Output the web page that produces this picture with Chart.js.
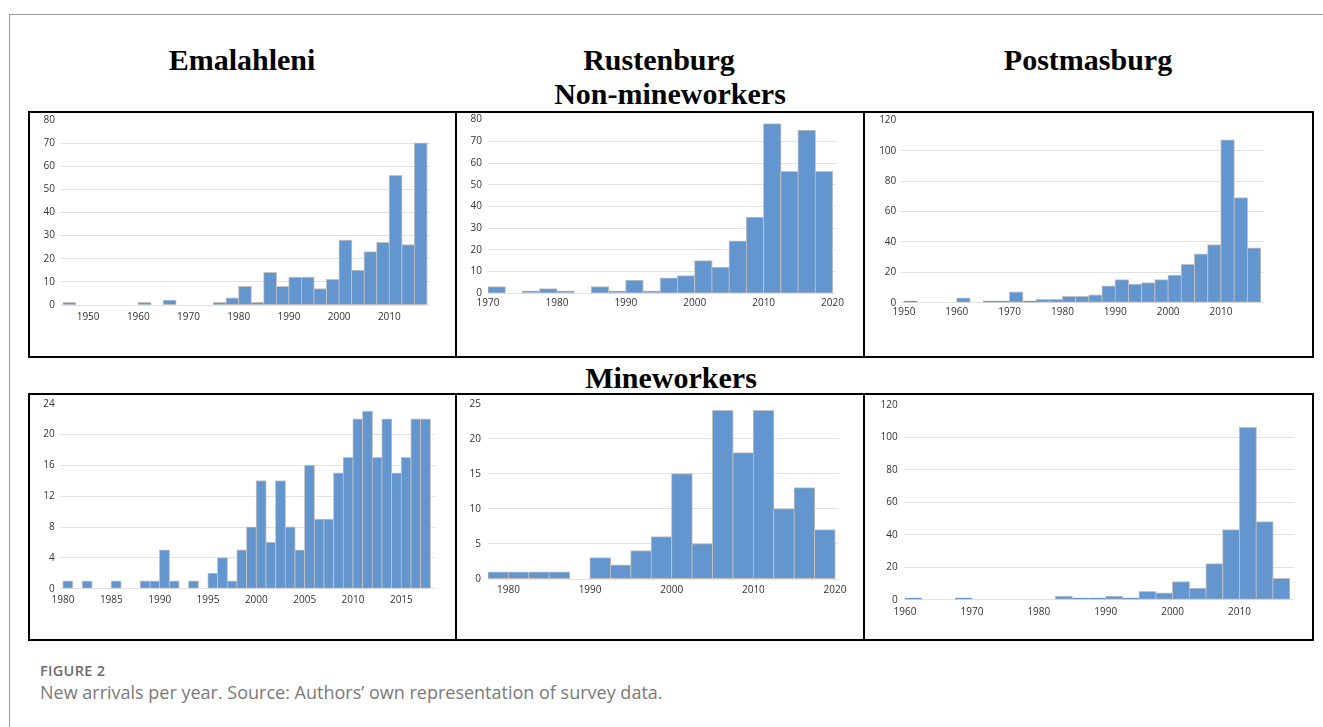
<!DOCTYPE html>
<html><head><meta charset="utf-8">
<script src="https://cdn.jsdelivr.net/npm/chart.js@4.4.1/dist/chart.umd.min.js"></script>
<style>
html,body{margin:0;padding:0;background:#fff}
body{width:1323px;height:727px;overflow:hidden;position:relative}
.frame{position:absolute;left:9px;top:14px;width:1400px;height:800px;border:1.5px solid #9a9a9a;box-sizing:border-box}
.box{position:absolute;border:2px solid #000;box-sizing:border-box}
.vdiv{position:absolute;background:#000;width:1.5px}
.title{position:absolute;font-family:'Liberation Serif','Times New Roman',serif;font-weight:bold;font-size:30px;line-height:30px;color:#000;white-space:nowrap;transform:translateX(-50%)}
.cap1{position:absolute;left:40px;top:664px;font-family:'Open Sans',sans-serif;font-weight:600;font-size:14.5px;line-height:14.5px;color:#6b6b6b;letter-spacing:0.3px}
.cap2{position:absolute;left:40px;top:683px;font-family:'Open Sans',sans-serif;font-size:18px;line-height:18px;color:#7a7a7a;white-space:nowrap}
canvas{position:absolute}
</style></head><body>
<div class="frame"></div>

<div class="title" style="left:242px;top:45px">Emalahleni</div>
<div class="title" style="left:659px;top:45px">Rustenburg</div>
<div class="title" style="left:670px;top:79px">Non-mineworkers</div>
<div class="title" style="left:1088px;top:45px">Postmasburg</div>
<div class="title" style="left:671px;top:363px">Mineworkers</div>

<div class="box" style="left:28px;top:111px;width:1286px;height:247px"></div>
<div class="vdiv" style="left:455px;top:112px;height:245px"></div>
<div class="vdiv" style="left:863px;top:112px;height:245px"></div>
<div class="box" style="left:28px;top:393px;width:1286px;height:248px"></div>
<div class="vdiv" style="left:455px;top:394px;height:246px"></div>
<div class="vdiv" style="left:863px;top:394px;height:246px"></div>

<canvas id="c1" width="424" height="243" style="left:30px;top:113px"></canvas>
<canvas id="c2" width="405" height="243" style="left:457px;top:113px"></canvas>
<canvas id="c3" width="446" height="243" style="left:865px;top:113px"></canvas>
<canvas id="c4" width="424" height="243" style="left:30px;top:396px"></canvas>
<canvas id="c5" width="405" height="243" style="left:457px;top:396px"></canvas>
<canvas id="c6" width="446" height="243" style="left:865px;top:396px"></canvas>

<div class="cap1">FIGURE 2</div>
<div class="cap2">New arrivals per year. Source: Authors’ own representation of survey data.</div>

<script>
// ---- Data: bin start years and counts (new arrivals per bin) ----
// Emalahleni, non-mineworkers (2.5-year bins)
const emaNonBins   = [1945,1947.5,1950,1952.5,1955,1957.5,1960,1962.5,1965,1967.5,1970,1972.5,1975,1977.5,1980,1982.5,1985,1987.5,1990,1992.5,1995,1997.5,2000,2002.5,2005,2007.5,2010,2012.5,2015];
const emaNonCounts = [1,0,0,0,0,0,1,0,2,0,0,0,1,3,8,1,14,8,12,12,7,11,28,15,23,27,56,26,70];
const emaNonTicks  = [1950,1960,1970,1980,1990,2000,2010];

// Rustenburg, non-mineworkers
const rusNonBins   = [1970,1972.5,1975,1977.5,1980,1982.5,1985,1987.5,1990,1992.5,1995,1997.5,2000,2002.5,2005,2007.5,2010,2012.5,2015,2017.5];
const rusNonCounts = [3,0,1,2,1,0,3,1,6,1,7,8,15,12,24,35,78,56,75,56];
const rusNonTicks  = [1970,1980,1990,2000,2010,2020];

// Postmasburg, non-mineworkers
const posNonBins   = [1950,1952.5,1955,1957.5,1960,1962.5,1965,1967.5,1970,1972.5,1975,1977.5,1980,1982.5,1985,1987.5,1990,1992.5,1995,1997.5,2000,2002.5,2005,2007.5,2010,2012.5,2015];
const posNonCounts = [1,0,0,0,3,0,1,1,7,1,2,2,4,4,5,11,15,12,13,15,18,25,32,38,107,69,36];
const posNonTicks  = [1950,1960,1970,1980,1990,2000,2010];

// Emalahleni, mineworkers (1-year bins)
const emaMinBins   = [1980,1981,1982,1983,1984,1985,1986,1987,1988,1989,1990,1991,1992,1993,1994,1995,1996,1997,1998,1999,2000,2001,2002,2003,2004,2005,2006,2007,2008,2009,2010,2011,2012,2013,2014,2015,2016,2017];
const emaMinCounts = [1,0,1,0,0,1,0,0,1,1,5,1,0,1,0,2,4,1,5,8,14,6,14,8,5,16,9,9,15,17,22,23,17,22,15,17,22,22];
const emaMinTicks  = [1980,1985,1990,1995,2000,2005,2010,2015];

// Rustenburg, mineworkers
const rusMinBins   = [1977.5,1980,1982.5,1985,1987.5,1990,1992.5,1995,1997.5,2000,2002.5,2005,2007.5,2010,2012.5,2015,2017.5];
const rusMinCounts = [1,1,1,1,0,3,2,4,6,15,5,24,18,24,10,13,7];
const rusMinTicks  = [1980,1990,2000,2010,2020];

// Postmasburg, mineworkers
const posMinBins   = [1960,1962.5,1965,1967.5,1970,1972.5,1975,1977.5,1980,1982.5,1985,1987.5,1990,1992.5,1995,1997.5,2000,2002.5,2005,2007.5,2010,2012.5,2015];
const posMinCounts = [1,0,0,1,0,0,0,0,0,2,1,1,2,1,5,4,11,7,22,43,106,48,13];
const posMinTicks  = [1960,1970,1980,1990,2000,2010];

// ---- Layout (canvas origin + plot area in page pixels) ----
const panels = [
  {id:'c1', cx:30,  cy:113, cw:424, ch:243, pl:61,    pt:120,   pr:430,    pb:305,   xMin:1944.6, xMax:2018.1, yMax:80,  yStep:10, bins:emaNonBins, counts:emaNonCounts, ticks:emaNonTicks, xPad:6, yPad:6},
  {id:'c2', cx:457, cy:113, cw:405, ch:243, pl:488,   pt:119.6, pr:836,    pb:293.3, xMin:1970,   xMax:2020.5, yMax:80,  yStep:10, bins:rusNonBins, counts:rusNonCounts, ticks:rusNonTicks, xPad:4, yPad:6},
  {id:'c3', cx:865, cy:113, cw:446, ch:243, pl:901.3, pt:120.3, pr:1264.3, pb:302.7, xMin:1949.5, xMax:2018.2, yMax:120, yStep:20, bins:posNonBins, counts:posNonCounts, ticks:posNonTicks, xPad:3, yPad:5},
  {id:'c4', cx:30,  cy:396, cw:424, ch:243, pl:59.7,  pt:403.7, pr:434.7,  pb:588.7, xMin:1979.66,xMax:2018.45,yMax:24,  yStep:4,  bins:emaMinBins, counts:emaMinCounts, ticks:emaMinTicks, xPad:5, yPad:5},
  {id:'c5', cx:457, cy:396, cw:405, ch:243, pl:488,   pt:403.7, pr:838.3,  pb:579,   xMin:1977.5, xMax:2020.4, yMax:25,  yStep:5,  bins:rusMinBins, counts:rusMinCounts, ticks:rusMinTicks, xPad:5, yPad:7},
  {id:'c6', cx:865, cy:396, cw:446, ch:243, pl:903.7, pt:404.8, pr:1293.7, pb:599.7, xMin:1959.8, xMax:2018.1, yMax:120, yStep:20, bins:posMinBins, counts:posMinCounts, ticks:posMinTicks, xPad:6, yPad:6}
];

const tickFont = {family:"'Open Sans', sans-serif", size:10};
const tickColor = '#333333';

function zeroPad(s) { s.paddingTop = 0; s.paddingBottom = 0; s.paddingLeft = 0; s.paddingRight = 0; }

panels.forEach(p => {
  const w = p.bins[1] - p.bins[0];
  const data = p.bins.map((b, i) => ({x: b + w / 2, y: p.counts[i]}));
  new Chart(document.getElementById(p.id), {
    type: 'bar',
    data: {datasets: [{
      data,
      backgroundColor: '#6395cf',
      borderColor: '#c2c2c2',
      borderWidth: 1,
      borderSkipped: false,
      inflateAmount: 0.6,
      barPercentage: 1,
      categoryPercentage: 1
    }]},
    options: {
      responsive: false,
      animation: false,
      devicePixelRatio: 1,
      layout: {padding: {left: 0, top: p.pt - p.cy, right: (p.cx + p.cw) - p.pr, bottom: 0}},
      plugins: {legend: {display: false}, tooltip: {enabled: false}},
      scales: {
        x: {
          type: 'linear', offset: false, min: p.xMin, max: p.xMax,
          grid: {display: false, drawTicks: false, offset: false},
          border: {display: false},
          afterBuildTicks: s => { s.ticks = p.ticks.map(v => ({value: v})); },
          afterFit: s => { s.height = (p.cy + p.ch) - p.pb; zeroPad(s); },
          ticks: {padding: p.xPad, font: tickFont, color: tickColor, maxRotation: 0, autoSkip: false, callback: v => String(v)}
        },
        y: {
          min: 0, max: p.yMax,
          grid: {drawTicks: false, lineWidth: 1, color: c => (c.tick && c.tick.value === p.yMax) ? 'rgba(0,0,0,0)' : '#e2e2e2'},
          border: {display: false},
          afterFit: s => { s.width = p.pl - p.cx; zeroPad(s); },
          ticks: {stepSize: p.yStep, padding: p.yPad, font: tickFont, color: tickColor}
        }
      }
    }
  });
});
</script>
</body></html>
